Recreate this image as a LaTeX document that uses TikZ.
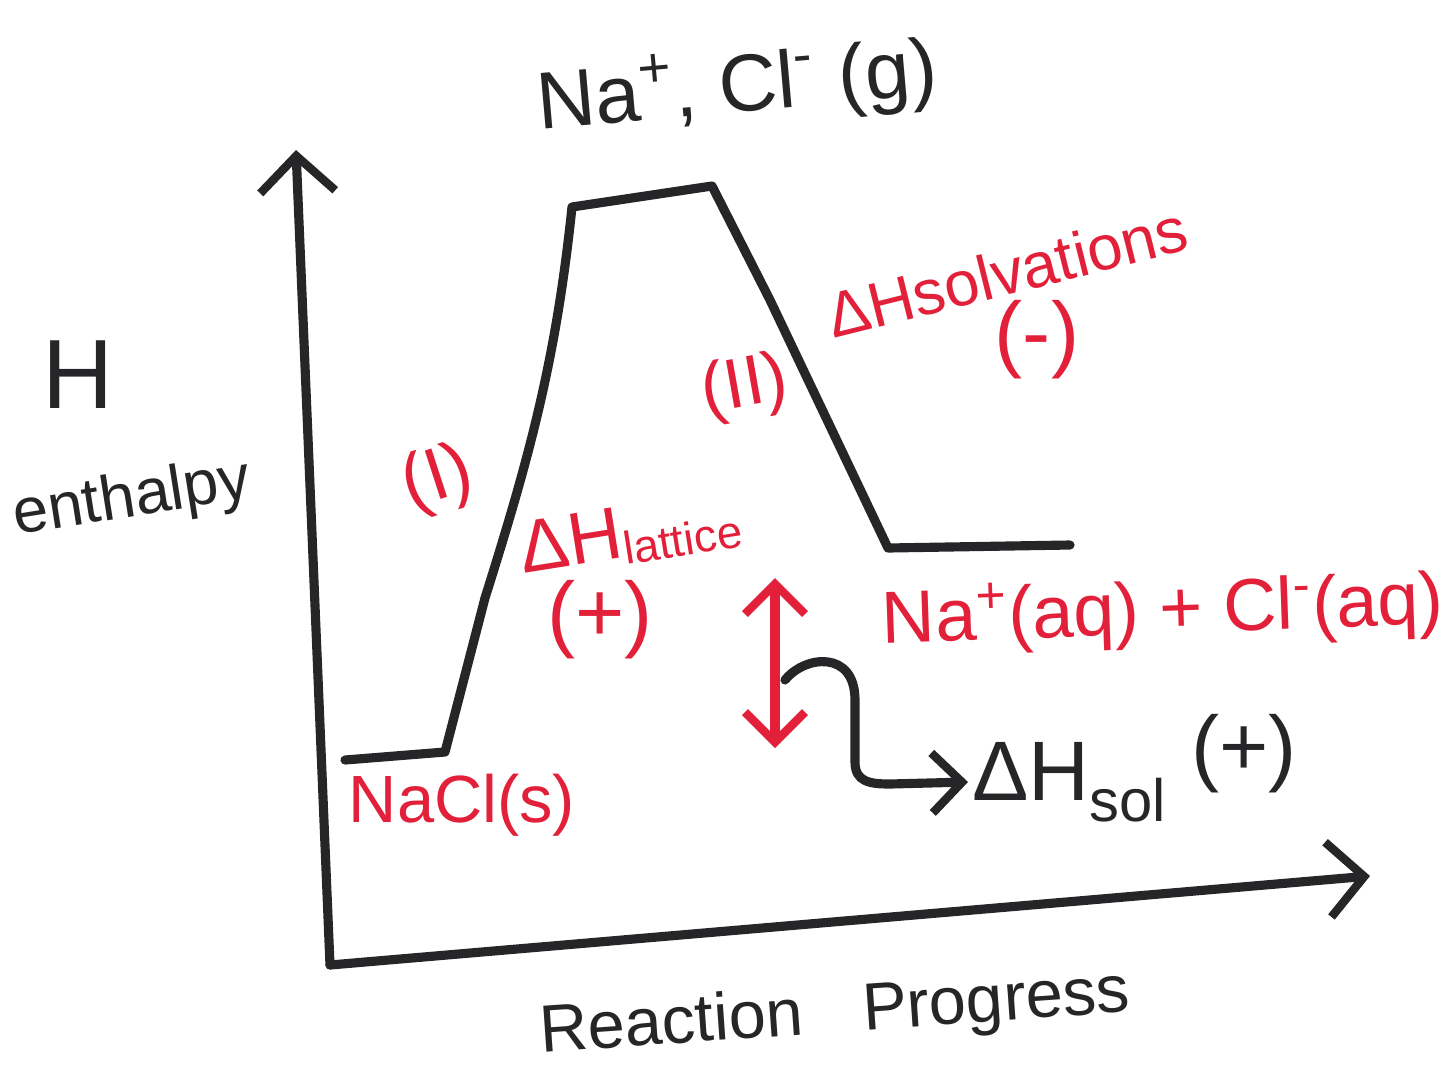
\documentclass[tikz,border=0pt]{standalone}
\usepackage{fontspec}
\setmainfont{Liberation Sans}
\usetikzlibrary{positioning,arrows.meta,calc}
\definecolor{inkblack}{RGB}{38,38,40}
\definecolor{inkred}{RGB}{226,32,58}
\tikzset{
  >={Straight Barb[length=3mm,width=6mm,line width=2.4pt]},
  trait/.style={draw=inkblack, line width=2.6pt, line cap=round, line join=round},
  traitrouge/.style={draw=inkred, line width=2.6pt, line cap=round, line join=round},
  axe/.style={trait, -{Straight Barb[length=3.6mm,width=7.5mm,line width=2.4pt]}},
  noir/.style={text=inkblack, inner sep=1pt, font=\fontsize{#1}{#1}\selectfont},
  noir/.default=20,
  rouge/.style={text=inkred, inner sep=1pt, font=\fontsize{#1}{#1}\selectfont},
  rouge/.default=20,
}

\begin{document}
\begin{tikzpicture}[x=0.01cm, y=-0.01cm]
    \useasboundingbox (0,0) rectangle (1445,1072);
    % axes
    \coordinate (o) at (330,965);
    \coordinate (ytop) at (296,150);
    \coordinate (xend) at (1370,876);
    \draw[axe] (o) -- (ytop);
    \draw[axe] (o) -- (xend);
    % enthalpy profile
    \coordinate (p1) at (345,760);
    \coordinate (p2) at (445,752);
    \coordinate (p3) at (485,598);
    \coordinate (p4) at (572,207);
    \coordinate (p5) at (712,186);
    \coordinate (p6) at (770,300);
    \coordinate (p7) at (888,548);
    \coordinate (p8) at (1070,545);
    \draw[trait] (p1) -- (p2) -- (p3) .. controls (530,455) and (556,360) .. (p4)
      -- (p5) -- (p6) -- (p7) -- (p8);
    % axis labels
    \node[noir=28] (h) at (78,375) {H};
    \node[noir=18, rotate=9] (enth) at (132,500) {enthalpy};
    \node[noir=19, rotate=4] (rp) at (835,1015) {Reaction\hspace{0.6cm}Progress};
    \node[noir=23, rotate=5] (gaz) at (737,88) {Na\textsuperscript{+}, Cl\textsuperscript{-} (g)};
    % red labels
    \node[rouge=19] (nacl) at (462,805) {NaCl(s)};
    \node[rouge=21, rotate=18] (etape1) at (438,480) {(I)};
    \node[rouge=20, rotate=10] (etape2) at (745,388) {(II)};
    \node[rouge=21, rotate=9] (latt) at (630,535) {ΔH\raisebox{-0.1em}{\fontsize{13}{13}\selectfont lattice}};
    \node[rouge=24] (lattsg) at (600,620) {(+)};
    \node[rouge=18, rotate=14] (solv) at (1007,272) {ΔHsolvations};
    \node[rouge=24] (solvsg) at (1037,340) {(-)};
    \node[rouge=21, rotate=2] (aq) at (1163,613) {Na\textsuperscript{+}(aq) + Cl\textsuperscript{-}(aq)};
    % enthalpy of solution
    \coordinate (haut) at (775,578);
    \coordinate (bas) at (775,748);
    \draw[traitrouge, <->] (haut) -- (bas);
    \coordinate (pied) at (785,680);
    \node[noir=24, anchor=west] (dhsol) at (968,768) {ΔH\raisebox{-0.25em}{\fontsize{17}{17}\selectfont sol}\hspace{0.3em}\raisebox{0.3em}{(+)}};
    \draw[trait, ->] (pied) .. controls (805,655) and (855,650) .. (855,700)
      -- (855,762) .. controls (855,782) and (870,784) .. (890,784) -- (dhsol.west |- 0,782);
\end{tikzpicture}
\end{document}
